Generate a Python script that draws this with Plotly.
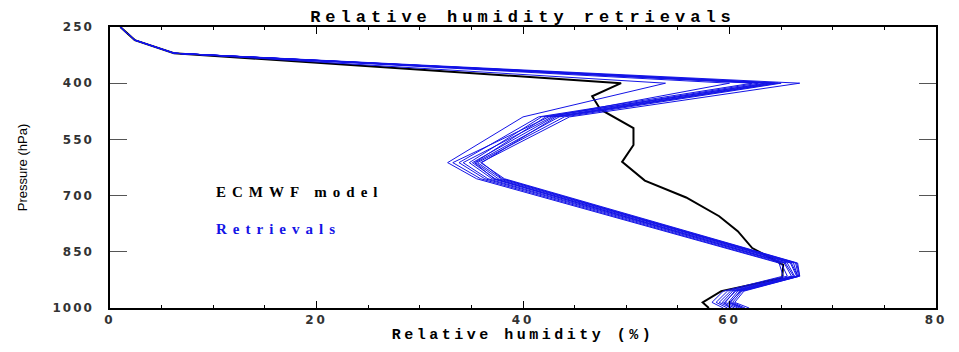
import plotly.graph_objects as go

# ---------------- data ----------------
P_MODEL = [250, 285, 320, 400, 435, 470, 520, 565, 610, 660, 705, 755, 795, 840, 885, 920, 955, 985, 1000]
RH_MODEL = [1.0, 2.4, 6.2, 49.5, 46.7, 47.5, 50.7, 50.7, 49.6, 51.8, 55.8, 59.0, 60.8, 62.2, 65.2, 65.1, 59.2, 57.4, 58.0]

P_RET = [250, 285, 320, 400, 490, 612, 655, 880, 915, 955, 985, 1000]
RET_01 = [1.0, 2.4, 6.2, 53.8, 40.0, 32.7, 35.5, 64.8, 65.2, 59.4, 58.3, 59.4]
RET_02 = [1.0, 2.4, 6.2, 60.0, 42.5, 33.2, 35.9, 65.0, 65.6, 59.8, 58.7, 59.8]
RET_03 = [1.0, 2.4, 6.2, 62.2, 41.5, 33.8, 36.3, 65.3, 66.0, 60.1, 59.0, 60.2]
RET_04 = [1.0, 2.4, 6.2, 63.4, 42.8, 34.2, 36.6, 65.6, 66.3, 60.3, 59.3, 60.5]
RET_05 = [1.0, 2.4, 6.2, 63.8, 41.8, 34.8, 37.0, 65.9, 66.5, 60.5, 59.6, 60.8]
RET_06 = [1.0, 2.4, 6.2, 64.1, 43.0, 35.1, 37.3, 66.2, 66.6, 60.8, 59.9, 61.0]
RET_07 = [1.0, 2.4, 6.2, 64.4, 43.5, 35.4, 37.6, 66.4, 66.7, 61.0, 60.1, 61.3]
RET_08 = [1.0, 2.4, 6.2, 65.0, 44.0, 35.6, 37.9, 66.5, 66.8, 61.2, 60.3, 61.5]
RET_09 = [1.0, 2.4, 6.2, 66.8, 44.5, 35.9, 38.2, 66.6, 66.8, 61.4, 60.5, 61.9]
RET_10 = [1.0, 2.4, 6.2, 62.8, 42.2, 35.3, 37.2, 65.4, 66.2, 60.6, 59.5, 60.0]
RET_11 = [1.0, 2.4, 6.2, 64.7, 43.2, 36.0, 38.0, 66.0, 66.6, 61.1, 60.0, 61.2]
RETRIEVALS = [RET_01, RET_02, RET_03, RET_04, RET_05, RET_06, RET_07, RET_08, RET_09, RET_10, RET_11]

X_TICKS = [0, 20, 40, 60, 80]
Y_TICKS = [250, 400, 550, 700, 850, 1000]

TITLE = "Relative humidity retrievals"
X_TITLE = "Relative humidity (%)"
Y_TITLE = "Pressure (hPa)"
LABEL_MODEL = "ECMWF model"
LABEL_RET = "Retrievals"


def spaced(text, px):
    return '<span style="letter-spacing:%spx">%s</span>' % (px, text)


BLACK = "#000000"
BLUE = "#1414e6"

fig = go.Figure()
fig.add_trace(go.Scatter(x=RH_MODEL, y=P_MODEL, mode="lines",
                         line=dict(color=BLACK, width=2), showlegend=False))
for r in RETRIEVALS:
    fig.add_trace(go.Scatter(x=r, y=P_RET, mode="lines",
                             line=dict(color=BLUE, width=1), showlegend=False))

fig.add_annotation(x=10.05, y=690, xref="x", yref="y", text=spaced(LABEL_MODEL, 6),
                   showarrow=False, xanchor="left", yanchor="middle",
                   font=dict(family="Liberation Serif", size=15, color=BLACK, weight="bold"))
fig.add_annotation(x=10.05, y=790, xref="x", yref="y", text=spaced(LABEL_RET, 6),
                   showarrow=False, xanchor="left", yanchor="middle",
                   font=dict(family="Liberation Serif", size=15, color=BLUE, weight="bold"))

tickfont = dict(family="DejaVu Sans", size=12, color="#333333", weight="bold")

fig.update_layout(
    width=959, height=352,
    margin=dict(l=110, r=13, t=27, b=35),
    paper_bgcolor="white", plot_bgcolor="white",
    title=dict(text=spaced(TITLE, 5), x=0.5, xref="paper", y=1 - 16 / 352,
               yref="container", xanchor="center", yanchor="middle",
               font=dict(family="Liberation Mono", size=17, color=BLACK, weight="bold")),
    xaxis=dict(range=[0, 80], tickvals=X_TICKS,
               ticktext=[spaced(str(v), 3) for v in X_TICKS],
               ticks="inside", ticklen=7, tickwidth=1, tickcolor=BLACK,
               showline=True, linecolor=BLACK, linewidth=1.5, mirror="ticks",
               showgrid=False, zeroline=False, tickfont=tickfont,
               minor=dict(dtick=5, ticks="inside", ticklen=3, tickcolor=BLACK, showgrid=False),
               title=dict(text=spaced(X_TITLE, 3.5), standoff=2,
                          font=dict(family="Liberation Mono", size=15, color=BLACK, weight="bold"))),
    yaxis=dict(range=[1000, 250], tickvals=Y_TICKS,
               ticktext=[spaced(str(v), 2) for v in Y_TICKS],
               ticks="inside", ticklen=17, tickwidth=1, tickcolor="#555555",
               showline=True, linecolor=BLACK, linewidth=1.5, mirror="ticks",
               showgrid=False, zeroline=False, tickfont=tickfont, ticklabelstandoff=12,
               title=dict(text=Y_TITLE, standoff=22,
                          font=dict(family="Liberation Sans", size=13, color=BLACK))),
)

fig.write_html("out.html")
